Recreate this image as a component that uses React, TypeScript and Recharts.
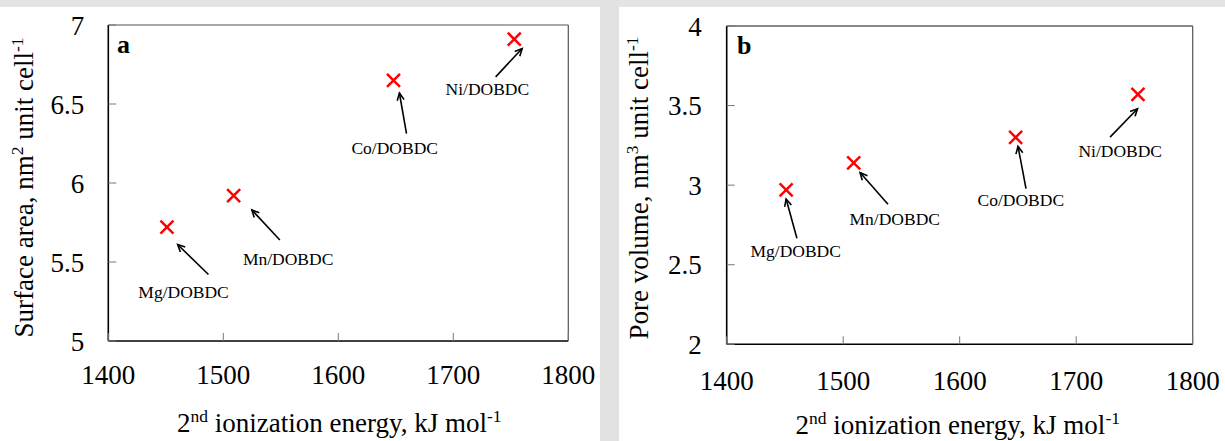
import { ScatterChart, Scatter, XAxis, YAxis, ReferenceLine } from 'recharts';

const metals = ['Mg/DOBDC', 'Mn/DOBDC', 'Co/DOBDC', 'Ni/DOBDC'];
const ionizationEnergy = [1451, 1509, 1648, 1753];
const surfaceArea = [5.72, 5.92, 6.65, 6.91];
const poreVolume = [2.97, 3.14, 3.3, 3.57];
const energyTicks = [1400, 1500, 1600, 1700, 1800];
const surfaceTicks = [5, 5.5, 6, 6.5, 7];
const poreTicks = [2, 2.5, 3, 3.5, 4];

const FONT = '"Liberation Serif", "Times New Roman", serif';

// arrow/label offsets from each marker in px: head dx,dy / tail dx,dy / label dx,dy
const surfaceNotes: Record<string, number[]> = {
  'Mg/DOBDC': [10.7, 17.3, 41.5, 47.3, 16.6, 71],
  'Mn/DOBDC': [18.2, 14.3, 46.2, 44.3, 54.5, 69.3],
  'Co/DOBDC': [5.9, 12.7, 13, 53.3, 1.2, 74],
  'Ni/DOBDC': [7.9, 9.3, -18.6, 37.7, -26.9, 56],
};
const poreNotes: Record<string, number[]> = {
  'Mg/DOBDC': [0, 9, 10.8, 48.3, 9.6, 67.3],
  'Mn/DOBDC': [6.4, 9.7, 34.3, 41.3, 41.1, 61.7],
  'Co/DOBDC': [2.4, 9, 10.4, 51.3, 5.2, 69],
  'Ni/DOBDC': [-0.4, 14.3, -27.9, 42.7, -17.7, 62.3],
};

const surfaceData = metals.map((name, i) => ({ name, x: ionizationEnergy[i], y: surfaceArea[i] }));
const poreData = metals.map((name, i) => ({ name, x: ionizationEnergy[i], y: poreVolume[i] }));

function makeShape(notes: Record<string, number[]>) {
  return (props: any) => {
    const { cx, cy, payload } = props;
    const n = notes[payload.name];
    const hx = cx + n[0], hy = cy + n[1];
    const tx = cx + n[2], ty = cy + n[3];
    const ang = Math.atan2(hy - ty, hx - tx);
    const L = 8, spread = 0.45;
    const a1 = ang + Math.PI - spread, a2 = ang + Math.PI + spread;
    const h = 6.5;
    return (
      <g>
        <line x1={cx - h} y1={cy - h} x2={cx + h} y2={cy + h} stroke="#ff0000" strokeWidth={2.5} />
        <line x1={cx - h} y1={cy + h} x2={cx + h} y2={cy - h} stroke="#ff0000" strokeWidth={2.5} />
        <line x1={tx} y1={ty} x2={hx} y2={hy} stroke="#000" strokeWidth={1.6} />
        <polyline
          points={`${hx + L * Math.cos(a1)},${hy + L * Math.sin(a1)} ${hx},${hy} ${hx + L * Math.cos(a2)},${hy + L * Math.sin(a2)}`}
          fill="none"
          stroke="#000"
          strokeWidth={1.6}
        />
        <text x={cx + n[4]} y={cy + n[5]} textAnchor="middle" fontFamily={FONT} fontSize={17.5} fill="#000">
          {payload.name}
        </text>
      </g>
    );
  };
}

function makeYTick(margin: number) {
  return (props: any) => {
    const { x, y, payload } = props;
    const ax = x + margin;
    return (
      <g>
        <line x1={ax} y1={y} x2={ax + 8} y2={y} stroke="#777" strokeWidth={1} />
        <text x={x} y={y} dy="0.355em" textAnchor="end" fontFamily={FONT} fontSize={27} fill="#000">
          {payload.value}
        </text>
      </g>
    );
  };
}

function makeXTick(margin: number) {
  return (props: any) => {
    const { x, y, payload } = props;
    const ay = y - margin;
    return (
      <g>
        <line x1={x} y1={ay} x2={x} y2={ay - 8} stroke="#777" strokeWidth={1} />
        <text x={x} y={y} dy="0.71em" textAnchor="middle" fontFamily={FONT} fontSize={27} fill="#000">
          {payload.value}
        </text>
      </g>
    );
  };
}

function xTitle(dx: number, dy: number) {
  return (props: any) => {
    const vb = props.viewBox;
    return (
      <text x={vb.x + vb.width / 2 + dx} y={vb.y + dy} textAnchor="middle" fontFamily={FONT} fontSize={27} fill="#000">
        2<tspan fontSize={17.5} dy={-10}>nd</tspan>
        <tspan dy={10}> ionization energy, kJ mol</tspan>
        <tspan fontSize={17.5} dy={-10}>-1</tspan>
      </text>
    );
  };
}

function yTitle(bx: number, cy: number, main: string, sup: string) {
  return () => (
    <text
      x={bx}
      y={cy}
      transform={`rotate(-90, ${bx}, ${cy})`}
      textAnchor="middle"
      fontFamily={FONT}
      fontSize={27}
      fill="#000"
    >
      {main}
      <tspan fontSize={17.5} dy={-10}>{sup}</tspan>
      <tspan dy={10}> unit cell</tspan>
      <tspan fontSize={17.5} dy={-10}>-1</tspan>
    </text>
  );
}

const panelLabel = {
  position: 'absolute' as const,
  fontFamily: FONT,
  fontWeight: 'bold' as const,
  fontSize: 26,
  lineHeight: '26px',
  color: '#000',
};

export default function App() {
  return (
    <div style={{ position: 'absolute', left: 0, top: 0, width: 1225, height: 441, background: '#fff', overflow: 'hidden' }}>
      <div style={{ position: 'absolute', left: 0, top: 0, width: 1225, height: 7, background: '#e4e4e4' }} />
      <div style={{ position: 'absolute', left: 600, top: 0, width: 19, height: 441, background: '#e2e2e2' }} />

      <div style={{ position: 'absolute', left: 0, top: 0 }}>
        <ScatterChart width={600} height={441} margin={{ top: 25, right: 31.7, left: 0, bottom: 0 }}>
          <XAxis
            type="number"
            dataKey="x"
            domain={[1400, 1800]}
            ticks={energyTicks}
            interval={0}
            height={100}
            tickSize={0}
            tickMargin={24}
            tickLine={false}
            axisLine={{ stroke: '#000', strokeWidth: 1.6 }}
            tick={makeXTick(24)}
            label={{ content: xTitle(1, 90.7) }}
          />
          <YAxis
            type="number"
            dataKey="y"
            domain={[5, 7]}
            ticks={surfaceTicks}
            interval={0}
            width={108.3}
            tickSize={0}
            tickMargin={24}
            tickLine={false}
            axisLine={{ stroke: '#000', strokeWidth: 1.6 }}
            tick={makeYTick(24)}
            label={{ content: yTitle(33, 187.5, 'Surface area, nm', '2') }}
          />
          <ReferenceLine y={7} stroke="#555" strokeWidth={1.2} />
          <ReferenceLine x={1800} stroke="#555" strokeWidth={1.2} />
          <Scatter data={surfaceData} shape={makeShape(surfaceNotes)} isAnimationActive={false} />
        </ScatterChart>
      </div>

      <div style={{ position: 'absolute', left: 600, top: 0 }}>
        <ScatterChart width={625} height={441} margin={{ top: 26, right: 32.3, left: 0, bottom: 0 }}>
          <XAxis
            type="number"
            dataKey="x"
            domain={[1400, 1800]}
            ticks={energyTicks}
            interval={0}
            height={96.7}
            tickSize={0}
            tickMargin={27}
            tickLine={false}
            axisLine={{ stroke: '#000', strokeWidth: 1.6 }}
            tick={makeXTick(27)}
            label={{ content: xTitle(-2, 89.5) }}
          />
          <YAxis
            type="number"
            dataKey="y"
            domain={[2, 4]}
            ticks={poreTicks}
            interval={0}
            width={126.7}
            tickSize={0}
            tickMargin={25}
            tickLine={false}
            axisLine={{ stroke: '#000', strokeWidth: 1.6 }}
            tick={makeYTick(25)}
            label={{ content: yTitle(48.3, 188, 'Pore volume, nm', '3') }}
          />
          <ReferenceLine y={4} stroke="#888" strokeWidth={2} />
          <ReferenceLine x={1800} stroke="#555" strokeWidth={1.2} />
          <Scatter data={poreData} shape={makeShape(poreNotes)} isAnimationActive={false} />
        </ScatterChart>
      </div>

      <div style={{ ...panelLabel, left: 117, top: 32 }}>a</div>
      <div style={{ ...panelLabel, left: 737, top: 33 }}>b</div>
    </div>
  );
}
